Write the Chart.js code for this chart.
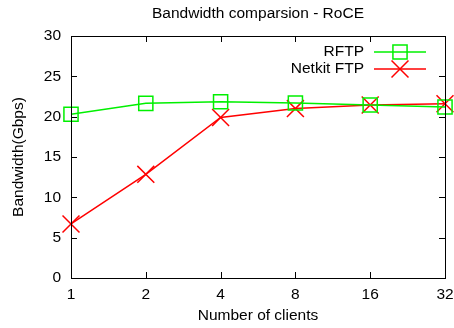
<!DOCTYPE html>
<html><head><meta charset="utf-8">
<script src="https://cdn.jsdelivr.net/npm/chart.js@4"></script>
<style>html,body{margin:0;padding:0;background:#fff}#wrap{width:454px;height:328px}</style>
</head><body><div id="wrap"><canvas id="c" width="454" height="328"></canvas></div>
<script>
const categories = ['1','2','4','8','16','32'];
const rftpValues = [20.3, 21.65, 21.85, 21.7, 21.45, 21.2];
const netkitValues = [6.7, 12.85, 19.9, 21.0, 21.45, 21.6];
const seriesNames = ['RFTP', 'Netkit FTP'];
const chartTitle = 'Bandwidth comparsion - RoCE';
const xTitle = 'Number of clients';
const yTitle = 'Bandwidth(Gbps)';

const FONT = 'Liberation Sans, Arial, Helvetica, sans-serif';
const GREEN = '#00f000', RED = '#ff0000';

const boxPlugin = {
  id: 'box',
  afterDatasetsDraw(chart) {
    const {ctx, chartArea: a, scales} = chart;
    ctx.save();
    ctx.strokeStyle = '#000'; ctx.lineWidth = 1;
    ctx.strokeRect(a.left + 0.5, a.top + 0.5, a.right - a.left, a.bottom - a.top);
    const L = 6;
    ctx.beginPath();
    scales.y.ticks.forEach((t, i) => {
      const y = Math.round(scales.y.getPixelForTick(i)) + 0.5;
      ctx.moveTo(a.left, y); ctx.lineTo(a.left + L, y);
      ctx.moveTo(a.right, y); ctx.lineTo(a.right - L, y);
    });
    scales.x.ticks.forEach((t, i) => {
      const x = Math.round(scales.x.getPixelForTick(i)) + 0.5;
      ctx.moveTo(x, a.bottom); ctx.lineTo(x, a.bottom - L);
      ctx.moveTo(x, a.top); ctx.lineTo(x, a.top + L);
    });
    ctx.stroke();
    // title centred over the plot area
    ctx.font = '15.5px ' + FONT;
    ctx.fillStyle = '#000';
    ctx.textAlign = 'center'; ctx.textBaseline = 'middle';
    ctx.fillText(chartTitle, (a.left + a.right) / 2, 14);
    // legend
    ctx.textAlign = 'right';
    const items = [
      {name: seriesNames[0], color: GREEN, style: 'rect', r: 10, y: 52},
      {name: seriesNames[1], color: RED, style: 'crossRot', r: 12, y: 69}
    ];
    items.forEach(it => {
      ctx.fillStyle = '#000';
      ctx.fillText(it.name, 364, it.y);
      ctx.strokeStyle = it.color; ctx.lineWidth = 1.5;
      ctx.beginPath(); ctx.moveTo(374, it.y); ctx.lineTo(426, it.y); ctx.stroke();
      ctx.fillStyle = 'rgba(0,0,0,0)';
      Chart.helpers.drawPoint(ctx, {pointStyle: it.style, radius: it.r, borderWidth: 1.5, rotation: 0}, 400, it.y);
    });
    ctx.restore();
  }
};

new Chart(document.getElementById('c'), {
  type: 'line',
  data: {
    labels: categories,
    datasets: [
      {label: seriesNames[0], data: rftpValues, borderColor: GREEN, backgroundColor: 'transparent',
       borderWidth: 1.5, pointStyle: 'rect', pointRadius: 10, pointBorderWidth: 1.5,
       pointBorderColor: GREEN, pointBackgroundColor: 'transparent', tension: 0, clip: false},
      {label: seriesNames[1], data: netkitValues, borderColor: RED, backgroundColor: 'transparent',
       borderWidth: 1.5, pointStyle: 'crossRot', pointRadius: 12, pointBorderWidth: 1.5,
       pointBorderColor: RED, pointBackgroundColor: 'transparent', tension: 0, clip: false}
    ]
  },
  options: {
    responsive: false, animation: false,
    layout: {autoPadding: false, padding: {left: 0, right: 9, top: 36, bottom: 0}},
    plugins: {
      legend: {display: false},
      tooltip: {enabled: false},
      title: {display: false}
    },
    scales: {
      x: {
        type: 'category', offset: false,
        grid: {display: false, drawTicks: false},
        border: {display: false},
        ticks: {color: '#000', font: {family: FONT, size: 15.5}, padding: 7, maxRotation: 0, autoSkip: false},
        title: {display: true, text: xTitle, color: '#000', font: {family: FONT, size: 15.5}, padding: {top: 0, bottom: 3}},
        afterFit(s) { s.height = 50; s.paddingLeft = 0; s.paddingRight = 0; }
      },
      y: {
        min: 0, max: 30,
        grid: {display: false, drawTicks: false},
        border: {display: false},
        ticks: {stepSize: 5, color: '#000', font: {family: FONT, size: 15.5}, padding: 10},
        title: {display: true, text: yTitle, color: '#000', font: {family: FONT, size: 15.5}, padding: {top: 9, bottom: 0}},
        afterFit(s) { s.width = 71; s.paddingTop = 0; s.paddingBottom = 0; }
      }
    }
  },
  plugins: [boxPlugin]
});
</script>
</body></html>
